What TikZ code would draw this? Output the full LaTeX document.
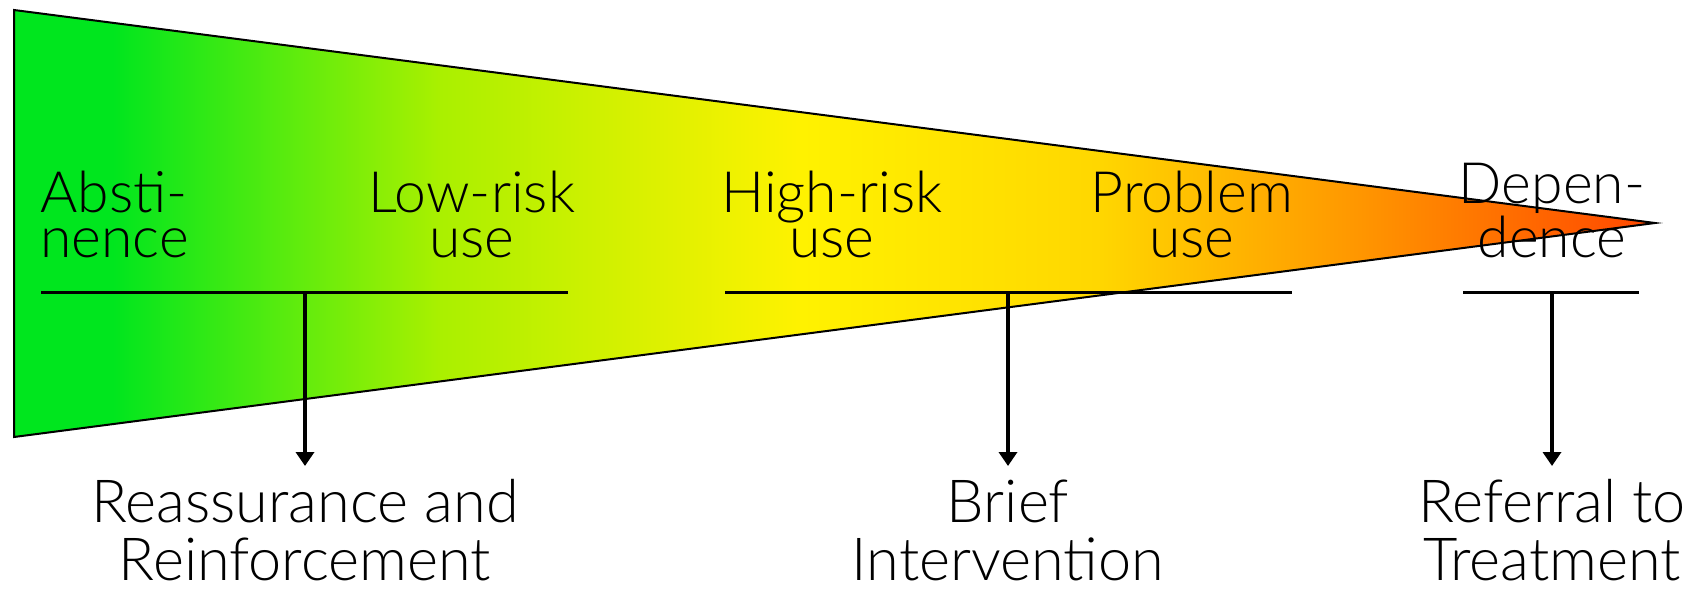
\documentclass[tikz,border=0pt]{standalone}
\usepackage{fontspec}
\setmainfont{Lato Light}
\usetikzlibrary{arrows.meta}
\usetikzlibrary{positioning}
\definecolor{absgreen}{RGB}{0,230,30}
\definecolor{limegreen}{RGB}{170,240,0}
\definecolor{useyellow}{RGB}{255,242,0}
\definecolor{goldish}{RGB}{255,215,0}
\definecolor{orangeish}{RGB}{255,150,0}
\definecolor{redorange}{RGB}{255,70,0}
\pgfdeclarehorizontalshading{stagefade}{100bp}{color(0bp)=(absgreen); color(28bp)=(absgreen);
  color(38bp)=(limegreen); color(49bp)=(useyellow); color(58bp)=(goldish);
  color(66bp)=(orangeish); color(75bp)=(redorange); color(100bp)=(redorange)}
\tikzset{stage/.style = {align=center, inner sep = 0, font=\fontsize{28.5}{22.5}\selectfont}}
\tikzset{action/.style = {align=center, inner sep = 0, font=\fontsize{29.7}{29}\selectfont}}
\tikzset{bar/.style = {line width = 1.5pt}}
\tikzset{down/.style = {line width = 2.2pt, -{Triangle[length=7pt, width=9pt]}}}

\begin{document}
\begin{tikzpicture}[x=0.5pt, y=-0.5pt]
    \useasboundingbox (0,0) rectangle (1699,589);
    \draw [line width=1pt, shading=stagefade] (14,10) -- (1655,223) -- (14,437) -- cycle;
    % base anchor sits on the last line
    \node [stage, align=left, anchor=base west] (abst) at (40,257) {Absti-\\nence};
    \node [stage, anchor=base] (low) at (472,257) {Low-risk\\use};
    \node [stage, anchor=base] (high) at (832,257) {High-risk\\use};
    \node [stage, anchor=base] (prob) at (1192,257) {Problem\\use};
    \node [stage, anchor=base] (dep) at (1552,257) {Depen-\\dence};
    \node [action, anchor=base] (reass) at (305,580) {Reassurance and\\Reinforcement};
    \node [action, anchor=base] (brief) at (1008,580) {Brief\\Intervention};
    \node [action, anchor=base] (refer) at (1552,580) {Referral to\\Treatment};
    \foreach \name/\xl/\xm/\xr in {reass/41/305/568, brief/725/1008/1292, refer/1463/1552/1639} {
      \coordinate (\name-l) at (\xl, 292);
      \coordinate (\name-r) at (\xr, 292);
      \coordinate (\name-m) at (\xm, 292);
      \coordinate (\name-t) at (\xm, 466);
      \draw [bar] (\name-l) -- (\name-r);
      \draw [down] (\name-m) -- (\name-t);
    }
\end{tikzpicture}
\end{document}
